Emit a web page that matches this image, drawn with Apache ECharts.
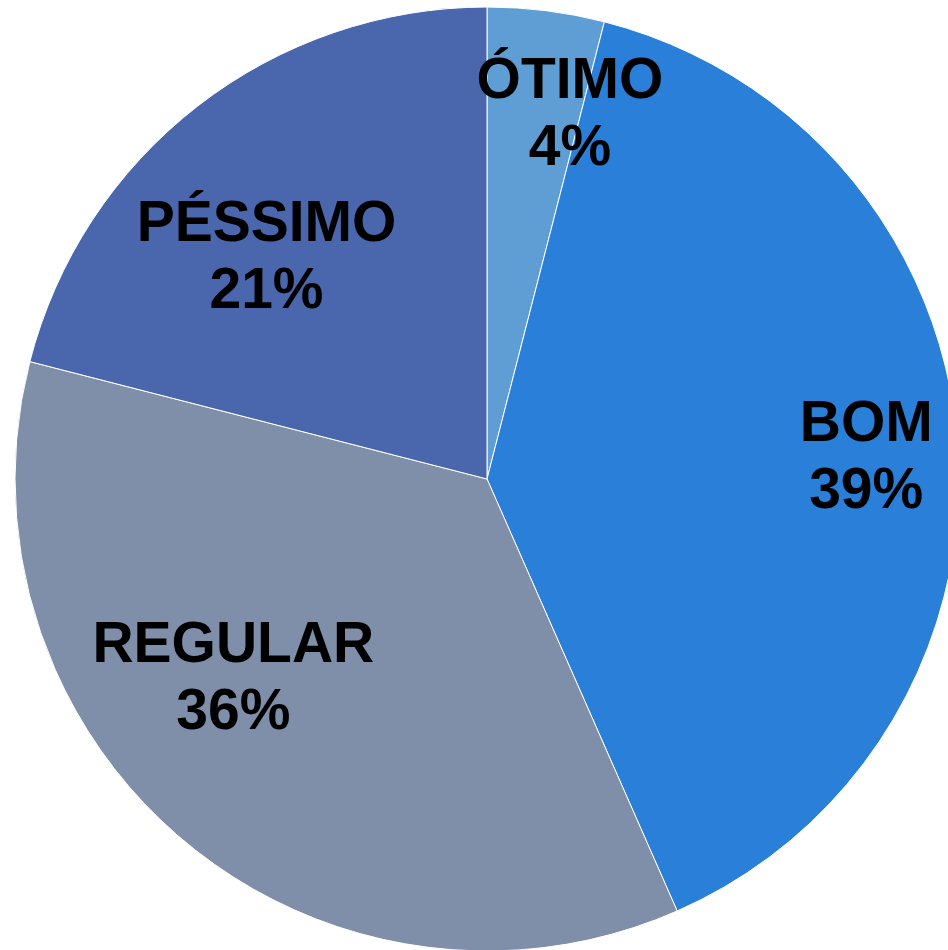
<!DOCTYPE html>
<html>
<head>
<meta charset="utf-8">
<script src="https://cdn.jsdelivr.net/npm/echarts@6/dist/echarts.min.js"></script>
<style>
  html, body { margin: 0; padding: 0; background: #fff; }
  #chart { width: 948px; height: 950px; }
</style>
</head>
<body>
<div id="chart"></div>
<script>
// avaliação: share of answers per category (%)
var categories = ['ÓTIMO', 'BOM', 'REGULAR', 'PÉSSIMO'];
var values = [4.0, 39.4, 35.6, 21.0];
var colors = ['#5F9ED5', '#2A7FD8', '#7F8EA9', '#4A66AD'];
// label nudges from the default inside spot (Excel "best fit" look)
var labelShift = [[53, -126], [141, -1], [-99, 19], [-74, -31]];

var myChart = echarts.init(document.getElementById('chart'));
myChart.setOption({
  animation: false,
  series: [
    {
      type: 'pie',
      center: [487, 479],
      radius: 472,
      startAngle: 90,
      clockwise: true,
      data: categories.map(function (name, i) {
        return { name: name, value: values[i], itemStyle: { color: colors[i] } };
      }),
      itemStyle: {
        borderColor: '#fff',
        borderWidth: 1
      },
      label: {
        show: true,
        position: 'inside',
        formatter: function (p) {
          return p.name + '\n' + Math.round(p.percent) + '%';
        },
        color: '#000',
        fontFamily: 'Liberation Sans, Arial, sans-serif',
        fontWeight: 'bold',
        fontSize: 57,
        lineHeight: 67,
        align: 'center'
      },
      labelLine: { show: false },
      labelLayout: function (params) {
        var s = labelShift[params.dataIndex];
        return { dx: s[0], dy: s[1] };
      },
      emphasis: { disabled: true }
    }
  ]
});
</script>
</body>
</html>
